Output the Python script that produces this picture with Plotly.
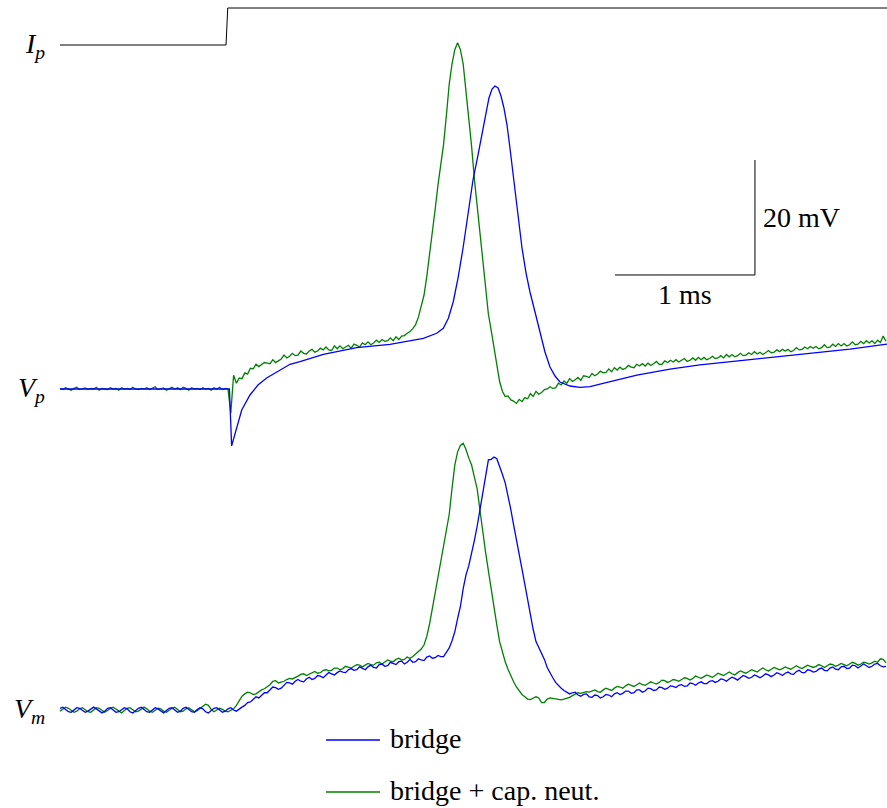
import numpy as np
import plotly.graph_objects as go

# sample times (ms) shared by the noisy recordings
t_ms = np.round(np.arange(296) * 0.02, 2)

# V_p, bridge + capacitance neutralisation (mV relative to rest)
vp_green = [
    0.1, -0.1, 0.2, 0.0, -0.2, 0.1, 0.3, -0.1, 0.0, 0.2,
    -0.1, 0.1, 0.0, 0.3, -0.2, 0.1, 0.0, -0.1, 0.2, 0.0,
    0.1, -0.2, 0.2, 0.0, 0.1, -0.1, 0.3, 0.0, -0.1, 0.1,
    0.0, 0.2, -0.1, 0.1, 0.4, -0.1, 0.0, 0.2, -0.2, 0.1,
    0.3, 0.0, 0.2, -0.1, 0.3, 0.1, -0.2, 0.2, 0.0, 0.1,
    -0.1, 0.2, 0.0, 0.1, -0.2, 0.2, 0.0, 0.3, -0.1, 0.1,
    0.0, -4.2, 2.4, 1.0, 1.9, 1.8, 2.8, 2.6, 3.6, 3.5,
    4.3, 3.9, 4.2, 4.6, 4.5, 4.4, 5.1, 4.6, 4.9, 5.2,
    5.9, 5.4, 5.7, 6.2, 5.8, 5.9, 6.6, 6.2, 6.1, 6.6,
    6.9, 6.4, 6.6, 7.1, 6.8, 7.3, 6.8, 6.7, 7.5, 7.0,
    7.5, 7.0, 7.3, 7.6, 7.1, 7.8, 7.6, 7.3, 8.0, 7.7,
    8.2, 7.7, 8.0, 8.5, 8.1, 8.6, 8.3, 8.4, 8.9, 8.4,
    9.1, 8.6, 9.2, 9.3, 9.7, 10.0, 10.5, 11.2, 12.5, 14.3,
    16.3, 19.6, 23.3, 27.2, 31.3, 35.5, 39.0, 42.6, 47.6, 53.0,
    56.5, 59.0, 60.2, 59.0, 56.5, 52.0, 47.5, 42.2, 36.5, 31.7,
    26.8, 22.3, 17.3, 13.0, 10.2, 7.1, 3.8, 1.3, -0.4, -1.3,
    -1.2, -1.9, -2.1, -2.5, -1.8, -2.2, -1.5, -1.7, -0.8, -1.3,
    -0.4, -0.9, -0.6, -0.1, 0.0, 0.4, 0.1, 0.2, 1.0, 0.7,
    1.4, 1.0, 1.8, 1.3, 1.6, 2.0, 1.5, 2.3, 2.2, 2.0,
    2.7, 2.3, 2.6, 3.1, 2.8, 2.9, 3.5, 3.0, 3.7, 3.3,
    3.8, 3.4, 3.6, 4.1, 3.8, 3.7, 4.3, 4.0, 4.4, 4.0,
    4.5, 4.1, 4.4, 4.8, 4.3, 4.3, 4.9, 4.6, 5.0, 4.7,
    5.1, 4.7, 5.0, 5.3, 4.8, 5.0, 5.4, 5.0, 5.5, 5.1,
    5.5, 5.1, 5.3, 5.7, 5.3, 5.4, 5.8, 5.4, 6.0, 5.6,
    6.0, 5.6, 5.8, 6.2, 5.8, 5.9, 6.3, 6.0, 6.5, 6.1,
    6.4, 6.0, 6.3, 6.7, 6.3, 6.4, 6.8, 6.5, 6.9, 6.6,
    6.9, 6.5, 6.7, 7.2, 6.8, 6.9, 7.3, 7.0, 7.4, 7.1,
    7.4, 7.0, 7.2, 7.7, 7.2, 7.3, 7.8, 7.4, 7.9, 7.5,
    7.9, 7.5, 7.7, 8.2, 7.7, 7.8, 8.3, 7.9, 8.4, 8.0,
    8.4, 7.9, 8.5, 8.1, 9.2, 8.3,
]

# V_m, bridge only (mV relative to rest)
vm_blue = [
    0.3, 0.5, 0.1, -0.3, -0.4, 0.0, 0.4, 0.3, -0.1, -0.4,
    -0.2, 0.2, 0.5, 0.2, -0.2, -0.5, -0.2, 0.3, 0.4, 0.0,
    -0.4, -0.3, 0.1, 0.4, 0.2, -0.3, -0.5, -0.1, 0.3, 0.5,
    0.1, -0.3, -0.4, 0.0, 0.4, 0.2, -0.2, -0.5, -0.1, 0.3,
    0.4, 0.0, -0.4, -0.2, 0.3, 0.5, 0.1, -0.3, -0.4, 0.1,
    0.4, 0.2, -0.3, -0.5, -0.1, 0.3, 0.4, 0.0, -0.4, -0.2,
    0.2, 0.4, 0.0, -0.2, 0.2, 0.5, 0.8, 1.3, 1.4, 1.8,
    2.3, 2.1, 2.5, 3.0, 3.0, 3.6, 4.0, 3.9, 3.6, 3.8,
    4.3, 4.8, 4.7, 4.5, 5.0, 5.3, 5.0, 4.9, 5.4, 5.7,
    5.3, 5.5, 6.0, 5.9, 5.6, 6.0, 6.5, 6.3, 6.1, 6.5,
    6.8, 6.6, 6.5, 7.0, 7.2, 6.9, 7.0, 7.5, 7.3, 7.0,
    7.5, 7.8, 7.4, 7.3, 7.9, 8.0, 7.6, 7.7, 8.3, 8.1,
    7.9, 8.4, 8.5, 8.0, 8.3, 8.8, 8.3, 8.4, 8.9, 8.7,
    8.6, 9.2, 9.4, 9.0, 9.1, 9.5, 9.3, 9.3, 10.0, 10.8,
    12.0, 13.6, 15.9, 18.0, 21.1, 23.5, 25.1, 27.2, 29.5, 32.0,
    35.0, 38.0, 41.1, 43.5, 43.6, 44.0, 43.7, 42.5, 41.0, 39.5,
    37.3, 34.9, 32.2, 29.8, 27.2, 24.5, 21.9, 19.2, 16.6, 14.0,
    11.9, 10.9, 9.7, 8.8, 7.4, 6.4, 5.6, 4.8, 4.2, 3.8,
    3.4, 3.1, 2.8, 3.0, 3.1, 2.6, 2.4, 2.7, 2.8, 2.3,
    2.2, 2.6, 2.5, 2.1, 2.3, 2.7, 2.6, 2.3, 2.8, 3.0,
    2.7, 2.9, 3.3, 3.3, 2.9, 3.0, 3.5, 3.5, 3.1, 3.3,
    3.8, 3.7, 3.4, 3.5, 4.0, 3.9, 3.6, 3.8, 4.2, 4.1,
    3.9, 4.3, 4.4, 4.1, 4.2, 4.7, 4.6, 4.3, 4.7, 4.9,
    4.6, 4.6, 5.0, 5.1, 4.8, 5.0, 5.4, 5.3, 5.0, 5.4,
    5.7, 5.5, 5.2, 5.6, 6.0, 5.8, 5.5, 5.7, 6.1, 5.9,
    5.6, 5.9, 6.3, 6.1, 5.8, 6.1, 6.5, 6.3, 6.0, 6.4,
    6.6, 6.3, 6.2, 6.7, 6.9, 6.5, 6.5, 7.0, 6.9, 6.6,
    6.7, 7.1, 7.3, 6.9, 6.8, 7.3, 7.5, 7.1, 7.0, 7.5,
    7.6, 7.2, 7.3, 7.8, 7.7, 7.3, 7.6, 8.0, 7.7, 7.4,
    7.6, 8.0, 8.1, 7.7, 7.5, 7.6,
]

# V_m, bridge + capacitance neutralisation (mV relative to rest)
vm_green = [
    -0.2, 0.2, 0.5, 0.3, -0.1, -0.4, -0.2, 0.2, 0.4, 0.1,
    -0.3, -0.4, 0.0, 0.4, 0.3, -0.1, -0.4, -0.1, 0.3, 0.5,
    0.2, -0.2, -0.5, -0.1, 0.3, 0.4, 0.0, -0.3, -0.2, 0.2,
    0.5, 0.2, -0.2, -0.4, 0.0, 0.3, 0.2, -0.2, -0.4, 0.0,
    0.3, 0.5, 0.1, -0.3, -0.2, 0.2, 0.4, 0.0, -0.3, -0.1,
    0.3, 0.6, 1.0, 0.8, 0.1, -0.3, 0.0, 0.3, 0.1, -0.2,
    -0.3, 0.0, 0.2, 0.8, 1.6, 2.4, 2.8, 3.1, 3.0, 2.7,
    2.8, 3.2, 3.5, 3.7, 4.0, 4.4, 5.0, 5.1, 4.7, 4.8,
    5.0, 5.3, 5.5, 5.4, 5.6, 5.9, 6.2, 6.3, 6.0, 6.2,
    6.5, 6.7, 6.4, 6.5, 6.9, 7.0, 6.8, 6.9, 7.3, 7.3,
    7.0, 7.2, 7.6, 7.5, 7.3, 7.6, 7.9, 7.8, 7.5, 7.8,
    8.1, 7.9, 7.8, 8.2, 8.3, 8.0, 8.3, 8.7, 8.5, 8.4,
    8.8, 9.0, 8.7, 8.8, 9.2, 9.0, 9.3, 9.7, 10.2, 10.6,
    11.3, 12.8, 15.0, 17.7, 20.1, 22.8, 25.5, 28.3, 31.2, 34.0,
    38.5, 42.6, 44.9, 46.0, 46.4, 45.3, 43.8, 42.6, 40.5, 38.4,
    34.7, 30.5, 27.4, 24.2, 20.9, 17.5, 14.8, 11.9, 10.0, 8.4,
    7.1, 5.9, 4.9, 4.0, 3.3, 2.7, 2.3, 1.9, 1.8, 2.0,
    2.3, 2.1, 1.3, 1.3, 1.9, 2.1, 2.0, 1.9, 1.8, 1.75,
    1.9, 2.0, 2.2, 2.5, 2.8, 3.0, 2.9, 3.1, 3.2, 3.1,
    3.3, 3.5, 3.2, 3.1, 3.5, 3.8, 3.6, 3.4, 3.8, 4.1,
    4.0, 3.8, 4.2, 4.5, 4.3, 4.1, 4.4, 4.7, 4.4, 4.3,
    4.6, 4.9, 4.7, 4.5, 4.8, 5.2, 5.1, 4.8, 5.0, 5.3,
    5.2, 5.0, 5.3, 5.6, 5.5, 5.2, 5.5, 5.9, 5.7, 5.5,
    5.8, 6.1, 5.9, 5.7, 6.0, 6.4, 6.2, 6.0, 6.3, 6.6,
    6.3, 6.1, 6.5, 6.8, 6.6, 6.4, 6.7, 7.0, 6.8, 6.6,
    7.0, 7.3, 7.0, 6.8, 7.1, 7.4, 7.2, 7.0, 7.2, 7.5,
    7.3, 7.1, 7.4, 7.7, 7.4, 7.2, 7.5, 7.8, 7.6, 7.4,
    7.6, 7.9, 7.7, 7.4, 7.7, 8.0, 7.9, 7.6, 7.8, 8.1,
    7.9, 7.7, 8.0, 8.3, 8.1, 7.8, 8.0, 8.3, 8.2, 8.0,
    8.2, 8.5, 8.3, 8.9, 8.8, 8.2,
]

# V_p, bridge only (smooth trace, own sample times)
vp_blue_t = [0.0, 0.5, 1.0, 1.21, 1.226, 1.262, 1.298, 1.357, 1.414, 1.476,
             1.593, 1.643, 1.714, 1.881, 2.119, 2.357, 2.595, 2.691, 2.738, 2.774,
             2.809, 2.843, 2.879, 2.914, 2.95, 2.986, 3.007, 3.036, 3.064, 3.086,
             3.107, 3.129, 3.15, 3.171, 3.193, 3.214, 3.243, 3.271, 3.3, 3.329,
             3.357, 3.393, 3.429, 3.464, 3.5, 3.536, 3.571, 3.643, 3.714, 3.786,
             3.879, 4.0, 4.121, 4.357, 4.571, 4.929, 5.286, 5.643, 5.907]
vp_blue = [0.0, 0.0, 0.0, 0.0, -9.9, -6.56, -3.65, -1.04, 0.70, 1.91,
           3.65, 4.3, 4.75, 6.03, 7.18, 7.77, 8.82, 9.69, 10.56, 12.30,
           15.18, 19.30, 24.52, 30.61, 36.35, 40.70, 43.30, 47.13, 50.61, 52.17,
           52.70, 52.35, 50.96, 48.87, 45.91, 41.91, 36.35, 30.26, 24.52, 20.17,
           16.87, 13.39, 9.74, 6.43, 3.83, 2.26, 1.22, 0.52, 0.30, 0.43,
           0.99, 1.65, 2.43, 3.45, 4.2, 5.1, 5.98, 6.95, 7.8]

# injected current I_p (normalised step)
ip_t = [0.0, 1.186, 1.198, 6.0]
ip_level = [0, 0, 1, 1]

# scale bar
bar_t0 = 3.964
bar_ms = 1.0
bar_v0 = 19.83
bar_mV = 20.0

assert len(vp_green) == len(t_ms) == len(vm_blue) == len(vm_green), (len(vp_green), len(vm_blue), len(vm_green))
assert len(vp_blue_t) == len(vp_blue)

BLUE = "#0000ff"
GREEN = "#008000"
LW = 1.3
FONT = "Liberation Serif"

fig = go.Figure()
fig.add_trace(go.Scatter(x=ip_t, y=ip_level, yaxis="y3", mode="lines",
                         line=dict(color="black", width=1.0), name="I_p"))
fig.add_trace(go.Scatter(x=t_ms, y=vp_green, yaxis="y", mode="lines",
                         line=dict(color=GREEN, width=LW), name="bridge + cap. neut."))
fig.add_trace(go.Scatter(x=vp_blue_t, y=vp_blue, yaxis="y", mode="lines",
                         line=dict(color=BLUE, width=LW), name="bridge"))
fig.add_trace(go.Scatter(x=t_ms, y=vm_green, yaxis="y2", mode="lines",
                         line=dict(color=GREEN, width=LW), name="bridge + cap. neut. (Vm)"))
fig.add_trace(go.Scatter(x=t_ms, y=vm_blue, yaxis="y2", mode="lines",
                         line=dict(color=BLUE, width=LW), name="bridge (Vm)"))
fig.add_trace(go.Scatter(x=[bar_t0, bar_t0 + bar_ms, bar_t0 + bar_ms],
                         y=[bar_v0, bar_v0, bar_v0 + bar_mV], yaxis="y", mode="lines",
                         line=dict(color="black", width=1.0), name="scale"))

ann = []
for txt, yr in [("<i>I</i><sub><i>p</i></sub>", "y3"),
                ("<i>V</i><sub><i>p</i></sub>", "y"),
                ("<i>V</i><sub><i>m</i></sub>", "y2")]:
    ann.append(dict(text=txt, x=-0.09, xref="x", y=0, yref=yr, xanchor="right",
                    yanchor="middle", showarrow=False, font=dict(family=FONT, size=28, color="black")))
ann.append(dict(text="20 mV", x=bar_t0 + bar_ms, y=bar_v0 + bar_mV / 2, xref="x", yref="y",
                xanchor="left", yanchor="middle", xshift=6, showarrow=False,
                font=dict(family=FONT, size=28, color="black")))
ann.append(dict(text="1 ms", x=bar_t0 + bar_ms / 2, y=bar_v0, xref="x", yref="y",
                xanchor="center", yanchor="top", yshift=-2, showarrow=False,
                font=dict(family=FONT, size=28, color="black")))

W, H = 887, 808
legend_items = [("bridge", BLUE, 740), ("bridge + cap. neut.", GREEN, 792)]
shapes = []
for label, col, ypx in legend_items:
    shapes.append(dict(type="line", xref="paper", yref="paper",
                       x0=326 / W, x1=380 / W, y0=1 - ypx / H, y1=1 - ypx / H,
                       line=dict(color=col, width=LW)))
    ann.append(dict(text=label, x=388 / W, y=1 - (ypx - 2) / H, xref="paper", yref="paper",
                    xanchor="left", yanchor="middle", showarrow=False,
                    font=dict(family=FONT, size=28, color="black")))

fig.update_layout(
    width=W, height=H,
    margin=dict(l=0, r=0, t=0, b=0),
    paper_bgcolor="white", plot_bgcolor="white",
    showlegend=False,
    xaxis=dict(range=[-60 / 140, 827 / 140], visible=False),
    yaxis=dict(range=[-(H - 389) / 5.75, 389 / 5.75], visible=False),
    yaxis2=dict(range=[-(H - 710) / 5.75, 710 / 5.75], visible=False, overlaying="y"),
    yaxis3=dict(range=[-(H - 45) / 37, 45 / 37], visible=False, overlaying="y"),
    annotations=ann,
    shapes=shapes,
)

fig.write_html("out.html", config={"displayModeBar": False},
               post_script="document.body.style.margin='0';document.body.style.overflow='hidden';")
